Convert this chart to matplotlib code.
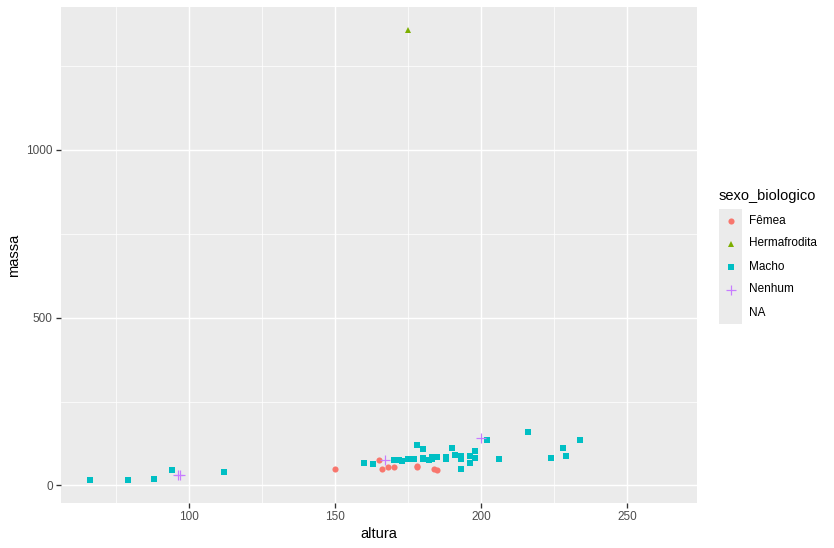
import numpy as np
import matplotlib.pyplot as plt
from matplotlib.patches import Rectangle

plt.rcParams['font.family'] = ['Liberation Sans', 'DejaVu Sans']

# starwars characters: height (altura), mass (massa), sex
altura = [172, 167, 96, 202, 150, 178, 165, 97, 183, 182, 188, 180, 228, 180, 173,
          175, 170, 180, 66, 170, 183, 200, 190, 177, 175, 180, 150, 88, 160, 193,
          191, 170, 185, 196, 224, 206, 183, 137, 112, 183, 163, 175, 180, 178, 79,
          94, 122, 163, 188, 198, 196, 171, 184, 188, 264, 188, 196, 185, 157, 183,
          183, 170, 166, 165, 193, 191, 183, 168, 198, 229, 213, 167, 96, 193, 191,
          178, 216, 234, 188, 178, 206]
massa = [77, 75, 32, 136, 49, 120, 75, 32, 84, 77, 84, np.nan, 112, 80, 74,
         1358, 77, 110, 17, 75, 78.2, 140, 113, 79, 79, 83, np.nan, 20, 68, 89,
         90, np.nan, 45, 66, 82, np.nan, np.nan, np.nan, 40, np.nan, np.nan, 80, np.nan, 55, 15,
         45, np.nan, 65, 84, 82, 87, np.nan, 50, np.nan, np.nan, 80, np.nan, 85, np.nan, np.nan,
         80, 56.2, 50, np.nan, 80, np.nan, 79, 55, 102, 88, np.nan, np.nan, np.nan, 48, np.nan,
         57, 159, 136, 79, 48, 80]
sexo = ['Macho', 'Nenhum', 'Nenhum', 'Macho', 'Fêmea', 'Macho', 'Fêmea', 'Nenhum', 'Macho', 'Macho',
        'Macho', 'Macho', 'Macho', 'Macho', 'Macho', 'Hermafrodita', 'Macho', 'Macho', 'Macho', 'Macho',
        'Macho', 'Nenhum', 'Macho', 'Macho', 'Macho', 'Macho', 'Fêmea', 'Macho', 'Macho', 'Macho',
        'Macho', 'Macho', 'Fêmea', 'Macho', 'Macho', 'Macho', 'Macho', 'Macho', 'Macho', 'Macho',
        'Fêmea', 'Macho', 'Macho', 'Fêmea', 'Macho', 'Macho', 'Macho', 'Macho', 'Macho', 'Macho',
        'Macho', 'Macho', 'Fêmea', 'Macho', 'Macho', 'Macho', 'Macho', 'Macho', 'Fêmea', 'Macho',
        'Macho', 'Fêmea', 'Fêmea', 'Fêmea', 'Macho', 'Macho', 'Macho', 'Fêmea', 'Macho', 'Macho',
        'Fêmea', 'Fêmea', 'Nenhum', 'Macho', 'Macho', 'Fêmea', 'Macho', 'Macho', 'Macho', 'NA',
        'Macho']

niveis = ['Fêmea', 'Hermafrodita', 'Macho', 'Nenhum', 'NA']
cores = {'Fêmea': '#F8766D', 'Hermafrodita': '#7CAE00', 'Macho': '#00BFC4', 'Nenhum': '#C77CFF'}
marcas = {'Fêmea': ('o', 4.6), 'Hermafrodita': ('^', 5.2), 'Macho': ('s', 4.6), 'Nenhum': ('+', 7.0)}

W, H = 834, 548
fig = plt.figure(figsize=(W / 96, H / 96), dpi=96)
ax = fig.add_axes([61 / W, (H - 503) / H, 636 / W, 496 / H])
ax.set_facecolor('#EBEBEB')
for s in ax.spines.values():
    s.set_visible(False)

x = np.array(altura, float)
y = np.array(massa, float)
s_arr = np.array(sexo)
for nv in niveis[:4]:
    m = (s_arr == nv) & ~np.isnan(x) & ~np.isnan(y)
    mk, ms = marcas[nv]
    ax.plot(x[m], y[m], linestyle='none', marker=mk, markersize=ms, color=cores[nv],
            markeredgewidth=0.9 if mk == '+' else 0, zorder=3)

xr = np.nanmax(x) - np.nanmin(x)
yr = np.nanmax(y) - np.nanmin(y)
ax.set_xlim(np.nanmin(x) - 0.05 * xr, np.nanmax(x) + 0.05 * xr)
ax.set_ylim(np.nanmin(y) - 0.05 * yr, np.nanmax(y) + 0.05 * yr)

ax.set_xticks([100, 150, 200, 250])
ax.set_yticks([0, 500, 1000])
ax.set_xticks([75, 125, 175, 225], minor=True)
ax.set_yticks([250, 750, 1250], minor=True)
ax.grid(True, which='major', color='white', linewidth=1.1, zorder=0)
ax.grid(True, which='minor', color='white', linewidth=0.55, zorder=0)
ax.set_axisbelow(True)
ax.tick_params(which='major', length=3.7, width=1.0, color='#333333', labelsize=8.8,
               labelcolor='#4D4D4D', pad=2.5)
ax.tick_params(which='minor', length=0)
ax.set_xlabel('altura', fontsize=11, labelpad=3)
ax.set_ylabel('massa', fontsize=11, labelpad=4)

# legend
fig.text(719 / W, 1 - 196 / H, 'sexo_biologico', fontsize=11, va='center', ha='left')
ka = fig.add_axes([719 / W, (H - 324) / H, 23 / W, 115 / H])
ka.set_xlim(0, 1)
ka.set_ylim(0, 5)
ka.axis('off')
ka.add_patch(Rectangle((0, 0), 1, 5, facecolor='#EBEBEB', edgecolor='none'))
for i, nv in enumerate(niveis):
    yc = 4.5 - i
    if nv in marcas:
        mk, ms = marcas[nv]
        ka.plot([0.5], [yc], linestyle='none', marker=mk, markersize=ms, color=cores[nv],
                markeredgewidth=0.9 if mk == '+' else 0)
    fig.text(749 / W, 1 - (209 + 23 * (i + 0.5)) / H, nv, fontsize=8.8, va='center', ha='left')

fig.savefig('out.png', dpi=96)
